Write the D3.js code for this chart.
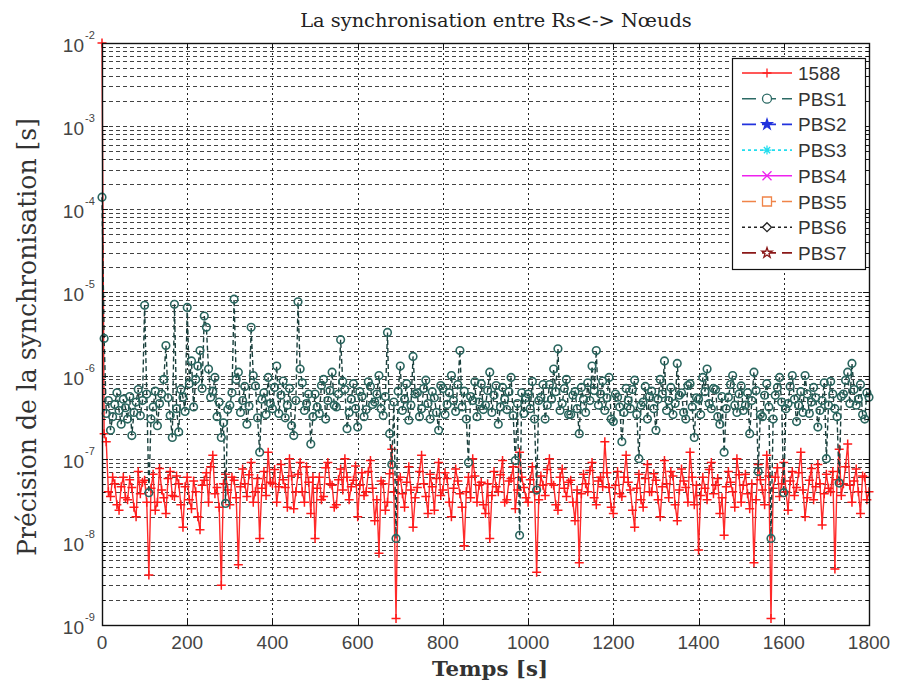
<!DOCTYPE html>
<html>
<head>
    <meta charset="utf-8">
    <title></title>
    <style type="text/css">
        html, body { margin: 0; background: #fff; }
        text { font-family: "Liberation Sans", Arial, sans-serif; }
        .serif { font-family: "DejaVu Serif", serif; }
    </style>
</head>
<body>
<svg id="svg" width="900" height="695"></svg>

<script src="https://cdnjs.cloudflare.com/ajax/libs/d3/7.8.5/d3.min.js"></script>
<script type="text/javascript">
    // sampling step of both series [s]
    var step = 5;

    var xTicks = [0, 200, 400, 600, 800, 1000, 1200, 1400, 1600, 1800];
    var yDecades = [1e-9, 1e-8, 1e-7, 1e-6, 1e-5, 1e-4, 1e-3, 1e-2];

    // 1588 precision, one value per 5 s (one row = 100 s)
    var s1588 = [
        1.0e-2, 2.0e-7, 1.6e-7, 4.0e-8, 3.5e-8, 6.0e-8, 5.0e-8, 2.8e-8, 2.4e-8, 4.6e-8, 6.0e-8, 3.4e-8, 3.2e-8, 5.6e-8, 4.5e-8, 2.6e-8, 2.0e-8, 7.0e-8, 3.8e-8, 5.2e-8,
        5.5e-8, 3.0e-8, 4.0e-9, 4.4e-8, 6.5e-8, 2.4e-8, 3.0e-8, 7.6e-8, 4.2e-8, 3.4e-8, 2.2e-8, 5.8e-8, 7.0e-8, 3.6e-8, 3.5e-8, 6.2e-8, 5.0e-8, 2.8e-8, 1.5e-8, 4.6e-8,
        6.0e-8, 3.2e-8, 2.5e-8, 5.4e-8, 4.0e-8, 2.0e-8, 1.4e-8, 4.8e-8, 5.5e-8, 6.8e-8, 3.0e-8, 8.0e-8, 1.1e-7, 3.8e-8, 4.5e-8, 2.6e-8, 3.0e-9, 5.0e-8, 6.5e-8, 4.2e-8,
        2.8e-8, 6.0e-8, 5.5e-8, 3.4e-8, 5.3e-9, 4.6e-8, 7.5e-8, 5.0e-8, 3.5e-8, 6.4e-8, 9.0e-8, 3.0e-8, 4.0e-8, 5.8e-8, 1.1e-8, 4.4e-8, 7.0e-8, 3.6e-8, 1.2e-7, 5.2e-8,
        5.0e-8, 7.4e-8, 3.0e-8, 4.6e-8, 8.5e-8, 5.6e-8, 4.5e-8, 2.6e-8, 1.0e-7, 6.2e-8, 2.5e-8, 4.0e-8, 6.5e-8, 9.0e-8, 4.0e-8, 3.0e-8, 8.0e-8, 5.2e-8, 2.2e-8, 6.0e-8,
        1.1e-8, 4.4e-8, 6.0e-8, 3.2e-8, 3.5e-8, 7.8e-8, 9.0e-8, 5.0e-8, 4.8e-8, 2.6e-8, 2.8e-8, 5.6e-8, 7.5e-8, 4.2e-8, 1.0e-7, 6.0e-8, 3.2e-8, 4.6e-8, 5.5e-8, 8.2e-8,
        2.0e-8, 4.8e-8, 6.8e-8, 3.6e-8, 4.0e-8, 7.0e-8, 9.5e-8, 4.4e-8, 1.8e-8, 3.2e-8, 7.3e-9, 5.4e-8, 5.0e-8, 2.4e-8, 3.0e-8, 6.6e-8, 1.3e-7, 4.0e-8, 1.2e-9, 5.6e-8,
        6.0e-8, 3.8e-8, 2.6e-8, 5.2e-8, 8.0e-8, 4.2e-8, 1.5e-8, 3.4e-8, 4.5e-8, 7.0e-8, 1.1e-7, 5.0e-8, 3.5e-8, 2.2e-8, 6.5e-8, 4.6e-8, 2.4e-8, 5.8e-8, 9.0e-8, 3.6e-8,
        4.2e-8, 6.8e-8, 5.8e-8, 3.0e-8, 2.0e-8, 4.4e-8, 7.5e-8, 5.4e-8, 3.8e-8, 2.6e-8, 9.0e-9, 4.0e-8, 6.0e-8, 3.4e-8, 1.0e-7, 6.2e-8, 3.0e-8, 4.8e-8, 5.2e-8, 2.8e-8,
        2.2e-8, 5.0e-8, 1.1e-8, 3.6e-8, 7.0e-8, 4.6e-8, 4.0e-8, 6.4e-8, 9.5e-8, 3.0e-8, 3.2e-8, 5.4e-8, 5.8e-8, 8.0e-8, 2.5e-8, 4.2e-8, 1.2e-7, 6.0e-8, 4.5e-8, 3.4e-8,
        3.0e-8, 5.6e-8, 8.0e-8, 4.0e-8, 4.3e-9, 3.2e-8, 6.2e-8, 4.8e-8, 3.6e-8, 7.4e-8, 1.0e-7, 5.0e-8, 4.8e-8, 2.8e-8, 2.4e-8, 6.0e-8, 7.5e-8, 4.4e-8, 3.5e-8, 5.2e-8,
        5.5e-8, 3.0e-8, 1.8e-8, 4.2e-8, 5.6e-9, 3.8e-8, 6.5e-8, 5.0e-8, 4.0e-8, 7.2e-8, 9.0e-8, 3.4e-8, 2.8e-8, 5.4e-8, 6.0e-8, 4.6e-8, 1.6e-7, 6.8e-8, 4.5e-8, 2.6e-8,
        2.2e-8, 4.8e-8, 7.0e-8, 3.8e-8, 3.5e-8, 6.0e-8, 1.1e-7, 5.2e-8, 4.2e-8, 2.4e-8, 1.5e-8, 4.4e-8, 6.5e-8, 3.2e-8, 2.6e-8, 5.8e-8, 8.5e-8, 4.0e-8, 4.0e-8, 6.6e-8,
        5.5e-8, 3.2e-8, 2.0e-8, 4.6e-8, 9.5e-8, 5.0e-8, 3.4e-8, 7.0e-8, 6.2e-8, 2.8e-8, 1.8e-8, 4.2e-8, 7.5e-8, 5.4e-8, 4.5e-8, 3.0e-8, 1.2e-7, 6.0e-8, 2.8e-8, 4.8e-8,
        8.0e-9, 3.6e-8, 6.0e-8, 4.4e-8, 3.2e-8, 7.4e-8, 9.0e-8, 3.8e-8, 4.8e-8, 5.8e-8, 2.2e-8, 3.4e-8, 1.2e-8, 4.6e-8, 7.0e-8, 5.2e-8, 4.0e-8, 2.6e-8, 1.0e-7, 6.4e-8,
        3.0e-8, 4.8e-8, 6.5e-8, 3.8e-8, 2.5e-8, 5.0e-8, 5.6e-9, 3.2e-8, 8.5e-8, 5.6e-8, 4.2e-8, 2.8e-8, 1.1e-7, 6.2e-8, 1.2e-9, 4.4e-8, 6.0e-8, 7.8e-8, 3.5e-8, 5.0e-8,
        9.0e-8, 4.0e-8, 2.4e-8, 5.4e-8, 7.0e-8, 3.6e-8, 4.5e-8, 6.8e-8, 1.2e-7, 4.2e-8, 2.0e-8, 3.4e-8, 5.5e-8, 7.6e-8, 3.2e-8, 4.6e-8, 8.5e-8, 5.0e-8, 1.6e-8, 3.8e-8,
        6.5e-8, 4.4e-8, 4.0e-8, 7.0e-8, 4.7e-9, 5.6e-8, 1.3e-7, 3.6e-8, 5.0e-8, 8.0e-8, 1.5e-7, 4.8e-8, 3.0e-8, 5.4e-8, 7.5e-8, 4.0e-8, 2.2e-8, 6.2e-8, 6.0e-8, 3.2e-8,
        4.0e-8
    ];

    // PBS1 precision, one value per 5 s (one row = 100 s)
    var sPBS1 = [
        1.4e-4, 2.8e-6, 3.5e-7, 5.0e-7, 2.2e-7, 3.2e-7, 4.5e-7, 6.2e-7, 3.8e-7, 2.6e-7, 5.2e-7, 4.1e-7, 3.0e-7, 5.6e-7, 1.9e-7, 3.6e-7, 4.8e-7, 6.8e-7, 3.3e-7, 5.0e-7,
        7.0e-6, 6.0e-7, 3.9e-8, 3.0e-7, 4.2e-7, 6.5e-7, 2.5e-7, 4.6e-7, 6.0e-7, 9.0e-7, 2.3e-6, 5.4e-7, 3.3e-7, 1.8e-7, 7.2e-6, 4.0e-7, 2.1e-7, 6.8e-7, 5.5e-7, 3.7e-7,
        6.6e-6, 8.0e-7, 1.5e-6, 4.2e-7, 9.0e-7, 1.3e-6, 2.0e-6, 7.0e-7, 5.2e-6, 3.8e-6, 1.2e-6, 5.5e-7, 6.5e-7, 9.5e-7, 3.2e-7, 4.8e-7, 1.8e-7, 2.7e-7, 2.9e-8, 3.9e-7,
        4.4e-7, 6.2e-7, 8.3e-6, 9.0e-7, 1.1e-6, 3.6e-7, 5.0e-7, 7.4e-7, 2.6e-7, 4.3e-7, 3.8e-6, 1.0e-6, 7.5e-7, 3.1e-7, 1.2e-7, 5.2e-7, 6.2e-7, 3.4e-7, 9.5e-7, 4.6e-7,
        4.0e-7, 7.2e-7, 1.3e-6, 3.5e-7, 5.8e-7, 8.6e-7, 3.1e-7, 4.4e-7, 7.0e-7, 2.5e-7, 1.9e-7, 5.0e-7, 7.7e-6, 1.2e-6, 8.2e-7, 3.8e-7, 4.6e-7, 6.0e-7, 1.5e-7, 3.2e-7,
        6.0e-7, 4.2e-7, 3.5e-7, 7.6e-7, 9.0e-7, 3.0e-7, 5.0e-7, 6.6e-7, 1.1e-6, 4.4e-7, 4.2e-7, 6.0e-7, 2.7e-6, 8.5e-7, 6.8e-7, 2.3e-7, 3.6e-7, 5.2e-7, 8.0e-7, 4.0e-7,
        2.4e-7, 6.4e-7, 5.6e-7, 3.2e-7, 3.9e-7, 8.4e-7, 7.4e-7, 4.5e-7, 4.8e-7, 6.0e-7, 1.0e-6, 4.0e-7, 3.3e-7, 5.6e-7, 3.3e-6, 2.0e-7, 8.5e-8, 4.8e-7, 1.1e-8, 6.5e-7,
        1.3e-6, 3.8e-7, 5.2e-7, 8.0e-7, 2.9e-7, 4.4e-7, 1.7e-6, 6.0e-7, 6.2e-7, 3.2e-7, 4.0e-7, 7.0e-7, 8.8e-7, 4.6e-7, 3.0e-7, 6.4e-7, 5.4e-7, 3.6e-7, 2.2e-7, 7.6e-7,
        7.0e-7, 3.4e-7, 4.5e-7, 6.2e-7, 1.0e-6, 5.0e-7, 3.7e-7, 7.8e-7, 2.0e-6, 4.2e-7, 6.5e-7, 3.0e-7, 9.0e-8, 5.6e-7, 5.0e-7, 8.4e-7, 3.2e-7, 4.8e-7, 8.0e-7, 3.9e-7,
        4.4e-7, 6.6e-7, 1.1e-6, 3.6e-7, 5.8e-7, 7.6e-7, 2.6e-7, 4.2e-7, 7.2e-7, 5.2e-7, 3.9e-7, 6.4e-7, 9.5e-7, 3.3e-7, 9.5e-8, 4.6e-7, 1.2e-8, 6.2e-7, 3.5e-7, 5.4e-7,
        6.0e-7, 4.0e-7, 8.5e-7, 3.0e-7, 4.2e-8, 5.0e-7, 5.5e-7, 7.8e-7, 3.0e-7, 4.4e-7, 7.8e-7, 5.2e-7, 1.2e-6, 6.4e-7, 2.1e-6, 3.8e-7, 4.6e-7, 7.0e-7, 9.0e-7, 3.4e-7,
        3.4e-7, 5.8e-7, 6.4e-7, 4.0e-7, 2.0e-7, 7.2e-7, 5.2e-7, 3.6e-7, 8.2e-7, 5.0e-7, 1.3e-6, 6.6e-7, 2.0e-6, 4.4e-7, 6.0e-7, 8.6e-7, 3.8e-7, 5.4e-7, 9.5e-7, 3.0e-7,
        2.8e-7, 6.0e-7, 5.5e-7, 4.2e-7, 1.6e-7, 3.6e-7, 7.0e-7, 5.0e-7, 4.0e-7, 6.8e-7, 8.8e-7, 3.4e-7, 1.0e-7, 4.4e-7, 4.8e-7, 7.4e-7, 3.0e-7, 5.6e-7, 6.5e-7, 4.0e-7,
        2.2e-7, 5.2e-7, 9.0e-7, 6.0e-7, 1.5e-6, 3.8e-7, 5.0e-7, 7.2e-7, 3.4e-7, 4.6e-7, 1.4e-6, 5.8e-7, 6.2e-7, 3.6e-7, 3.0e-7, 7.6e-7, 8.0e-7, 4.2e-7, 1.8e-7, 5.4e-7,
        5.2e-7, 3.4e-7, 9.5e-7, 6.4e-7, 1.2e-6, 4.6e-7, 4.0e-7, 7.0e-7, 6.8e-7, 3.2e-7, 2.6e-7, 5.6e-7, 1.2e-7, 4.0e-7, 5.5e-7, 7.8e-7, 1.0e-6, 4.4e-7, 3.6e-7, 6.0e-7,
        7.5e-7, 3.8e-7, 4.4e-7, 6.2e-7, 2.0e-7, 5.0e-7, 1.1e-6, 6.6e-7, 7.0e-8, 3.4e-7, 3.2e-7, 5.8e-7, 8.0e-7, 4.2e-7, 1.1e-8, 3.0e-7, 5.8e-7, 7.2e-7, 9.5e-7, 4.8e-7,
        3.9e-8, 4.0e-7, 4.6e-7, 7.4e-7, 1.0e-6, 5.2e-7, 2.8e-7, 4.4e-7, 6.4e-7, 3.6e-7, 1.0e-6, 6.0e-7, 3.5e-7, 4.8e-7, 7.2e-7, 5.4e-7, 2.4e-7, 3.8e-7, 5.0e-7, 8.2e-7,
        1.0e-7, 4.4e-7, 8.5e-7, 6.0e-7, 4.0e-7, 3.2e-7, 5.1e-8, 5.6e-7, 6.0e-7, 8.8e-7, 1.1e-6, 4.6e-7, 1.4e-6, 6.8e-7, 4.4e-7, 5.2e-7, 7.8e-7, 3.4e-7, 3.0e-7, 6.2e-7,
        5.5e-7
    ];

    var legendNames = ['1588', 'PBS1', 'PBS2', 'PBS3', 'PBS4', 'PBS5', 'PBS6', 'PBS7'];
    var legendColors = ['#ff2020', '#2c6a65', '#2233dd', '#22ddee', '#ee22ee', '#f08448', '#222222', '#8a1818'];
    var legendDash = ['none', '14,6', '14,6', '3,3', 'none', '14,6', '3,3', '14,6'];
    var legendMarks = ['plus', 'circle', 'star', 'aster', 'cross', 'square', 'diamond', 'penta'];

    var svg = d3.select('#svg');

    var x = d3.scaleLinear().domain([0, 1800]).range([102, 869]);
    var y = d3.scaleLog().domain([1e-9, 1e-2]).range([625, 43]);

    // grid
    var grid = svg.append('g').attr('stroke', '#222').attr('stroke-width', 1).attr('fill', 'none');
    y.ticks().forEach(function (v) {
        var yy = Math.round(y(v)) + 0.5;
        if (v <= 1e-9 || v >= 1e-2) return;
        grid.append('line').attr('x1', x(0)).attr('x2', x(1800))
            .attr('y1', yy).attr('y2', yy).attr('stroke-dasharray', '4,3').attr('stroke-opacity', 0.85);
    });
    xTicks.slice(1, -1).forEach(function (v) {
        var xx = Math.round(x(v)) + 0.5;
        grid.append('line').attr('x1', xx).attr('x2', xx)
            .attr('y1', y(1e-2)).attr('y2', y(1e-9)).attr('stroke-dasharray', '2,3');
    });

    // marker paths
    function markPath(kind, r) {
        if (kind == 'plus') return 'M' + (-r) + ',0H' + r + 'M0,' + (-r) + 'V' + r;
        if (kind == 'cross') return 'M' + (-r) + ',' + (-r) + 'L' + r + ',' + r + 'M' + (-r) + ',' + r + 'L' + r + ',' + (-r);
        if (kind == 'aster') {
            var k = r * 0.7;
            return 'M' + (-r) + ',0H' + r + 'M0,' + (-r) + 'V' + r +
                'M' + (-k) + ',' + (-k) + 'L' + k + ',' + k + 'M' + (-k) + ',' + k + 'L' + k + ',' + (-k);
        }
        if (kind == 'circle') return d3.symbol(d3.symbolCircle, Math.PI * r * r)();
        if (kind == 'square') return d3.symbol(d3.symbolSquare, 4 * r * r)();
        if (kind == 'diamond') return 'M0,' + (-r) + 'L' + r + ',0L0,' + r + 'L' + (-r) + ',0Z';
        if (kind == 'star' || kind == 'penta') return d3.symbol(d3.symbolStar, 1.6 * r * r)();
        return '';
    }

    function drawSeries(vals, color, lineColor, dash, kind, r, sw) {
        var pts = vals.map(function (v, i) { return [i * step, v]; });
        var line = d3.line().x(function (d) { return x(d[0]); }).y(function (d) { return y(d[1]); });
        var g = svg.append('g');
        g.append('path').attr('d', line(pts)).attr('fill', 'none')
            .attr('stroke', lineColor).attr('stroke-width', 1.4)
            .attr('stroke-dasharray', dash);
        g.selectAll('path.m').data(pts).enter().append('path')
            .attr('class', 'm')
            .attr('d', markPath(kind, r))
            .attr('transform', function (d) { return 'translate(' + x(d[0]) + ',' + y(d[1]) + ')'; })
            .attr('fill', 'none').attr('stroke', color).attr('stroke-width', sw);
    }

    drawSeries(s1588, '#ff1a1a', '#ff2a2a', 'none', 'plus', 4.5, 1.5);
    drawSeries(sPBS1, '#2a665f', '#1a403d', '5,3', 'circle', 3.8, 1.6);

    // frame + ticks (matlab style, inside)
    var frame = svg.append('g').attr('stroke', '#111').attr('fill', 'none');
    frame.append('rect').attr('x', 102.5).attr('y', 43.5).attr('width', 767).attr('height', 582).attr('stroke-width', 1.4);
    xTicks.forEach(function (v) {
        var xx = Math.round(x(v)) + 0.5;
        frame.append('line').attr('x1', xx).attr('x2', xx).attr('y1', 625).attr('y2', 619);
        frame.append('line').attr('x1', xx).attr('x2', xx).attr('y1', 43).attr('y2', 49);
    });
    y.ticks().forEach(function (v) {
        var yy = Math.round(y(v)) + 0.5;
        var len = yDecades.indexOf(v) >= 0 ? 6 : 3;
        frame.append('line').attr('x1', 102).attr('x2', 102 + len).attr('y1', yy).attr('y2', yy);
        frame.append('line').attr('x1', 869).attr('x2', 869 - len).attr('y1', yy).attr('y2', yy);
    });

    // tick labels
    svg.append('g').selectAll('text').data(xTicks).enter().append('text')
        .attr('x', function (d) { return x(d); })
        .attr('y', 649)
        .attr('text-anchor', 'middle')
        .attr('font-size', 19)
        .attr('fill', '#444')
        .text(function (d) { return d; });

    var yl = svg.append('g').selectAll('g').data(yDecades).enter().append('g')
        .attr('transform', function (d) { return 'translate(0,' + y(d) + ')'; });
    yl.append('text').attr('x', 84).attr('y', 9).attr('text-anchor', 'end')
        .attr('font-size', 19).attr('fill', '#444').text('10');
    yl.append('text').attr('x', 85).attr('y', -4)
        .attr('font-size', 11).attr('fill', '#444')
        .text(function (d) { return Math.round(Math.log10(d)); });

    // titles
    function fitWidth(t, w) {
        var fs = +t.attr('font-size');
        var len = t.node().getComputedTextLength();
        t.attr('font-size', (fs * w / len).toFixed(2));
    }
    var title = svg.append('text').attr('class', 'serif')
        .attr('x', 496).attr('y', 27).attr('text-anchor', 'middle')
        .attr('font-size', 18).attr('fill', '#222')
        .text('La synchronisation entre Rs<-> Nœuds');
    fitWidth(title, 392);

    var xlab = svg.append('text').attr('class', 'serif')
        .attr('x', 490).attr('y', 676).attr('text-anchor', 'middle')
        .attr('font-size', 19).attr('font-weight', 'bold').attr('fill', '#333')
        .text('Temps [s]');
    fitWidth(xlab, 116);

    var ylab = svg.append('text').attr('class', 'serif')
        .attr('transform', 'translate(36,337) rotate(-90)')
        .attr('text-anchor', 'middle')
        .attr('font-size', 19).attr('fill', '#333')
        .text('Précision de la synchronisation [s]');
    fitWidth(ylab, 438);

    // legend
    var lg = svg.append('g');
    lg.append('rect').attr('x', 732.5).attr('y', 58.5).attr('width', 133).attr('height', 211)
        .attr('fill', '#fff').attr('stroke', '#111').attr('stroke-width', 1.2);
    var item = lg.selectAll('g.item').data(legendNames).enter().append('g')
        .attr('class', 'item')
        .attr('transform', function (d, i) { return 'translate(0,' + (73 + i * 25.7) + ')'; });
    item.append('line').attr('x1', 742).attr('x2', 792).attr('y1', 0).attr('y2', 0)
        .attr('stroke', function (d, i) { return legendColors[i]; })
        .attr('stroke-width', 1.6)
        .attr('stroke-dasharray', function (d, i) { return legendDash[i]; });
    item.append('path')
        .attr('d', function (d, i) { return markPath(legendMarks[i], 4.5); })
        .attr('transform', 'translate(767,0)')
        .attr('fill', function (d, i) { return (legendMarks[i] == 'star') ? legendColors[i] : '#fff'; })
        .attr('stroke', function (d, i) { return legendColors[i]; })
        .attr('stroke-width', 1.3);
    item.append('text').attr('x', 798).attr('y', 7)
        .attr('font-size', 19).attr('fill', '#333')
        .text(function (d) { return d; });
</script>
</body>
</html>
